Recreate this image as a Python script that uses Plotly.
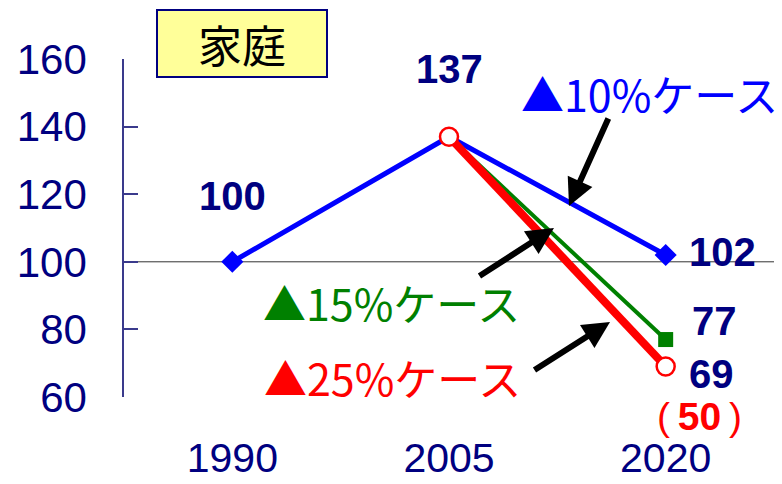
import plotly.graph_objects as go

# Household-sector emissions index (1990 = 100)
years = ["1990", "2005", "2020"]
case10 = [100, 137, 102]
case15_years = ["2005", "2020"]
case15 = [137, 77]
case25_years = ["2005", "2020"]
case25 = [137, 69]
case25_alt = 50
y_ticks = [60, 80, 100, 120, 140, 160]

NAVY = "#000080"
BLUE = "#0000FF"
GREEN = "#008000"
RED = "#FF0000"
JP = "Noto Sans CJK JP, sans-serif"
AR = "Liberation Sans, Arial, sans-serif"

fig = go.Figure()

fig.add_trace(go.Scatter(
    x=years, y=case10, mode="lines+markers",
    line=dict(color=BLUE, width=5),
    marker=dict(symbol="diamond", size=[17, 0, 17], color=BLUE, opacity=1,
                line=dict(width=0)),
    cliponaxis=False, hoverinfo="skip",
))
fig.add_trace(go.Scatter(
    x=case15_years, y=case15, mode="lines+markers",
    line=dict(color=GREEN, width=4),
    marker=dict(symbol="square", size=[0, 15], color=GREEN, opacity=1,
                line=dict(width=0)),
    cliponaxis=False, hoverinfo="skip",
))
fig.add_trace(go.Scatter(
    x=case25_years, y=case25, mode="lines+markers",
    line=dict(color=RED, width=8),
    marker=dict(symbol="circle", size=18, color="white", opacity=1,
                line=dict(color=RED, width=2.5)),
    cliponaxis=False, hoverinfo="skip",
))

# reference line at the 1990 level
fig.add_shape(type="line", xref="paper", x0=0, x1=1, yref="y",
              y0=case10[0], y1=case10[0], line=dict(color="#333333", width=1),
              layer="below")

ann = []


def cat(year):
    # category position of a year on the x axis
    return years.index(year)


# value labels next to the points
def value_label(year, y, text, dx, dy, color=NAVY, size=40):
    ann.append(dict(x=cat(year), y=y, xref="x", yref="y", text=text,
                    showarrow=False, xshift=dx, yshift=dy,
                    font=dict(family=AR, size=size, color=color)))


value_label(years[0], case10[0], f"<b>{case10[0]}</b>", 0, 66)
value_label(years[1], case10[1], f"<b>{case10[1]}</b>", 0, 68)
value_label(years[2], case10[2], f"<b>{case10[2]}</b>", 57, 3)
value_label(case15_years[1], case15[1], f"<b>{case15[1]}</b>", 49, 19)
value_label(case25_years[1], case25[1], f"<b>{case25[1]}</b>", 46, -7)
value_label(case25_years[1], case25[1],
            f"(&#8201;<b>{case25_alt}</b>&#8201;)", 34, -50, RED, 39)

# sector title box
ann.append(dict(x=0.1815, y=1.046, xref="paper", yref="paper",
                xanchor="center", yanchor="middle", text="家庭",
                showarrow=False, width=168, height=65, borderpad=0,
                bgcolor="#FFFF99", bordercolor=NAVY, borderwidth=2,
                font=dict(family=JP, size=44, color="black")))


# case names
def case_label(x, y, text, color):
    ann.append(dict(x=x, y=y, xref="paper", yref="paper",
                    xanchor="center", yanchor="middle", text=text,
                    showarrow=False, font=dict(family=JP, size=43, color=color)))


case_label(0.809, 0.899, "▲10%ケース", BLUE)
case_label(0.4108, 0.281, "▲15%ケース", GREEN)
case_label(0.4138, 0.059, "▲25%ケース", RED)


# pointer arrows from the case names to their lines
def arrow(x, y, ax, ay):
    ann.append(dict(x=x, y=y, xref="paper", yref="paper", ax=ax, ay=ay,
                    text="", showarrow=True, arrowhead=2, arrowsize=0.9,
                    arrowwidth=6, arrowcolor="black", standoff=0))


arrow(0.6846, 0.5651, 40, -89)
arrow(0.6615, 0.500, -76, 49)
arrow(0.7477, 0.2219, -77, 49)

fig.update_layout(
    width=782, height=484,
    margin=dict(l=124, r=8, t=59, b=87),
    paper_bgcolor="white", plot_bgcolor="white",
    showlegend=False,
    annotations=ann,
    xaxis=dict(type="category", range=[-0.5, 2.5], showgrid=False,
               showline=False, zeroline=False, ticks="", automargin=False,
               tickfont=dict(family=AR, size=41, color=NAVY),
               ticklabelstandoff=33),
    yaxis=dict(range=[60, 160], tickvals=y_ticks, showgrid=False,
               zeroline=False, showline=True, linecolor="#3A3A8C",
               linewidth=1.5, ticks="inside", ticklen=14, automargin=False,
               tickcolor="#3A3A8C", tickwidth=1.5,
               tickfont=dict(family=AR, size=42, color=NAVY),
               ticklabelstandoff=27),
)

fig.write_html("out.html")
